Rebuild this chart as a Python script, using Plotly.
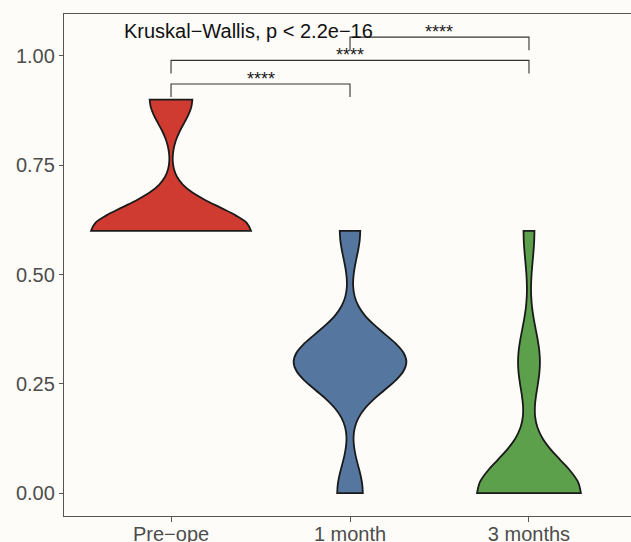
import plotly.graph_objects as go

# ---------------- data ----------------
categories = ["Pre\u2212ope", "1 month", "3 months"]

# observed values for each group and how many observations sit at each value
pre_values = [0.6, 0.9]
pre_counts = [30, 8]
m1_values = [0.0, 0.3, 0.6]
m1_counts = [5, 22, 4]
m3_values = [0.0, 0.3, 0.6]
m3_counts = [38, 8, 4]

y_tick_values = [0.0, 0.25, 0.5, 0.75, 1.0]
y_tick_labels = ["0.00", "0.25", "0.50", "0.75", "1.00"]

# pairwise comparisons: group a, group b, label, bracket height
cmp_group_a = ["Pre\u2212ope", "Pre\u2212ope", "1 month"]
cmp_group_b = ["1 month", "3 months", "3 months"]
cmp_labels = ["****", "****", "****"]
cmp_heights = [0.936, 0.990, 1.043]

kw_label = "Kruskal\u2212Wallis, p < 2.2e\u221216"
kw_height = 1.056

# ---------------- styling ----------------
fills = ["#CF3A31", "#55779F", "#5DA04B"]
bandwidths = [0.054, 0.065, 0.075]
violin_widths = [0.894, 0.63, 0.58]
bg = "#FDFCF8"
axis_col = "#555555"
tick_col = "#4D4D4D"
font_family = "Liberation Sans, Arial, sans-serif"


def expand(values, counts):
    out = []
    for v, c in zip(values, counts):
        out.extend([v] * c)
    return out


groups = [expand(pre_values, pre_counts),
          expand(m1_values, m1_counts),
          expand(m3_values, m3_counts)]

fig = go.Figure()
for i, (cat, ys) in enumerate(zip(categories, groups)):
    fig.add_trace(go.Violin(
        x=[cat] * len(ys), y=ys, name=cat,
        fillcolor=fills[i], opacity=1,
        line=dict(color="#1A1A1A", width=1.8),
        spanmode="hard", bandwidth=bandwidths[i],
        width=violin_widths[i], scalemode="width", scalegroup="g%d" % i,
        points=False, box_visible=False, meanline_visible=False,
        hoverinfo="skip", showlegend=False,
    ))

tip = 0.03
for a, b, lab, h in zip(cmp_group_a, cmp_group_b, cmp_labels, cmp_heights):
    fig.add_trace(go.Scatter(
        x=[a, a, b, b], y=[h - tip, h, h, h - tip], mode="lines",
        line=dict(color="#333333", width=1.1),
        hoverinfo="skip", showlegend=False,
    ))
    mid = (categories.index(a) + categories.index(b)) / 2
    fig.add_annotation(x=mid, y=h, text=lab, showarrow=False,
                       xanchor="center", yanchor="bottom", yshift=-7,
                       font=dict(size=18, color="#1A1A1A", family=font_family))

fig.add_annotation(x=-0.274, y=kw_height, text=kw_label, showarrow=False,
                   xanchor="left", yanchor="middle",
                   font=dict(size=20, color="#111111", family=font_family))

fig.update_layout(
    width=631, height=542,
    margin=dict(l=64, r=0, t=14, b=26),
    paper_bgcolor=bg, plot_bgcolor=bg,
    violinmode="overlay",
    font=dict(family=font_family),
    xaxis=dict(type="category", categoryorder="array", categoryarray=categories,
               range=[-0.598, 2.57], showline=True, mirror=True, automargin=False,
               linecolor=axis_col, linewidth=1.3, ticks="outside", ticklen=5,
               tickcolor=axis_col, tickwidth=1.2, showgrid=False, zeroline=False,
               ticklabelstandoff=-5,
               tickfont=dict(size=20, color=tick_col)),
    yaxis=dict(range=[-0.0525, 1.096], tickvals=y_tick_values, ticktext=y_tick_labels,
               showline=True, linecolor=axis_col, linewidth=1.3, ticks="outside",
               automargin=False, ticklen=4, tickcolor=axis_col, tickwidth=1.2,
               showgrid=False, zeroline=False, tickfont=dict(size=20, color=tick_col)),
)

fig.write_html("out.html",
               config={"displayModeBar": False},
               post_script="document.body.style.margin='0';"
                           "document.body.style.background='%s';" % bg)
